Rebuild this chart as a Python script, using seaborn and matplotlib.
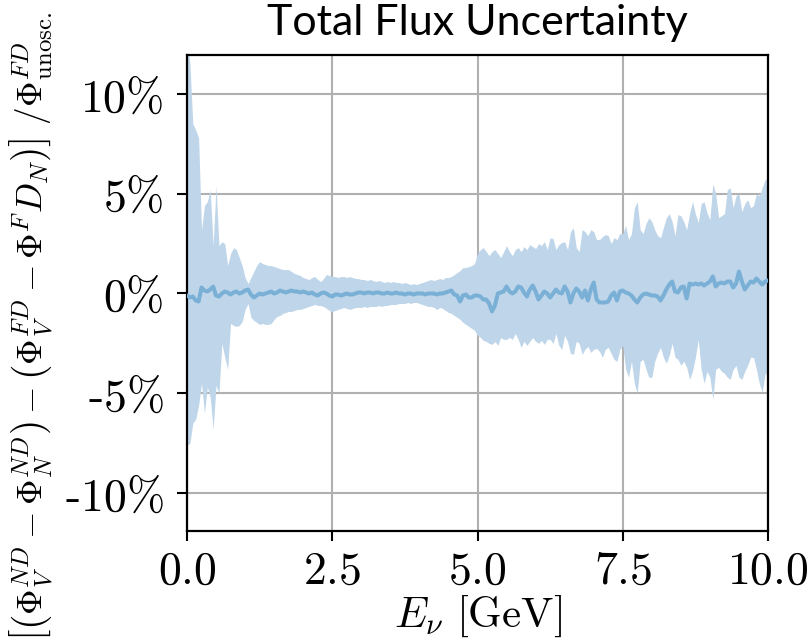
import numpy as np
import pandas as pd
import matplotlib
matplotlib.use("Agg")
import matplotlib.pyplot as plt
import seaborn as sns

# ---------------- data (percent) ----------------
energy = [round(0.05 * i, 2) for i in range(201)]

upper = [
    13.0, 11.5, 8.5, 8.2, 7.8, 3.2, 4.4, 4.6, 5.2, 2.4,
    5.4, 2.4, 2.6, 2.5, 1.4, 2.0, 2.3, 2.2, 1.8, 1.4,
    0.8, 0.5, 0.8, 1.1, 1.4, 1.6, 1.5, 1.45, 1.4, 1.4,
    1.35, 1.3, 1.25, 1.2, 1.2, 1.2, 1.1, 1.0, 0.95, 0.9,
    0.8, 0.75, 0.7, 0.8, 0.85, 0.7, 0.6, 0.75, 0.95, 0.9,
    0.85, 0.85, 0.8, 0.85, 0.85, 0.8, 0.85, 0.8, 0.75, 0.75,
    0.7, 0.7, 0.65, 0.7, 0.65, 0.6, 0.65, 0.6, 0.55, 0.6,
    0.55, 0.6, 0.55, 0.55, 0.5, 0.55, 0.5, 0.45, 0.5, 0.45,
    0.5, 0.55, 0.6, 0.65, 0.7, 0.65, 0.7, 0.75, 0.7, 0.8,
    0.8, 0.85, 0.95, 1.05, 1.15, 1.3, 1.3, 1.35, 1.4, 1.5,
    2.0, 2.2, 2.3, 2.1, 1.9, 2.1, 2.2, 2.0, 1.8, 2.1,
    2.4, 2.1, 1.9, 2.2, 2.3, 2.1, 2.35, 2.2, 2.45, 2.35,
    2.25, 2.5, 2.4, 2.6, 2.2, 2.8, 2.75, 2.2, 2.45, 2.55,
    2.6, 2.2, 3.1, 3.3, 2.3, 2.1, 3.2, 3.1, 2.9, 3.2,
    3.1, 2.7, 2.7, 2.85, 2.95, 2.9, 2.5, 2.8, 2.7, 3.0,
    3.0, 3.4, 2.7, 3.0, 4.3, 4.6, 3.2, 3.0, 3.5, 3.8,
    3.6, 3.2, 2.9, 2.8, 3.3, 3.8, 4.0, 3.6, 2.9, 3.95,
    3.9, 3.6, 3.2, 4.0, 4.6, 4.0, 3.55, 4.5, 4.6, 4.05,
    3.7, 5.5, 5.0, 3.8, 3.9, 4.0, 5.2, 5.3, 4.3, 4.9,
    5.0, 4.1, 4.5, 4.7, 4.3, 4.4, 5.0, 4.9, 5.3, 5.7,
    5.8,
]

lower = [
    -7.6, -7.5, -6.5, -6.3, -5.6, -4.5, -6.0, -4.7, -5.2, -6.8,
    -4.6, -5.0, -2.5, -3.2, -3.8, -1.5, -1.6, -1.65, -1.6, -1.4,
    -0.8, -0.5, -1.2, -1.35, -1.45, -1.55, -1.5, -1.55, -1.55, -1.5,
    -1.3, -1.15, -1.1, -1.0, -0.95, -0.9, -0.9, -0.85, -0.8, -0.8,
    -0.75, -0.7, -0.65, -0.6, -0.55, -0.6, -0.6, -0.65, -0.75, -0.85,
    -0.9, -0.85, -0.8, -0.75, -0.7, -0.75, -0.8, -0.75, -0.7, -0.7,
    -0.7, -0.65, -0.7, -0.65, -0.65, -0.65, -0.6, -0.65, -0.6, -0.6,
    -0.55, -0.55, -0.55, -0.5, -0.5, -0.5, -0.45, -0.5, -0.45, -0.45,
    -0.5, -0.55, -0.6, -0.65, -0.65, -0.7, -0.8, -0.7, -0.75, -0.85,
    -0.95, -1.0, -1.1, -1.2, -1.3, -1.45, -1.55, -1.65, -1.75, -1.85,
    -2.1, -2.2, -2.35, -2.4, -2.5, -2.55, -2.4, -2.6, -2.2, -2.3,
    -2.3, -2.2, -2.3, -2.0, -2.3, -2.7, -2.4, -2.6, -2.4, -2.2,
    -2.4, -2.5, -2.35, -2.55, -2.3, -2.3, -2.5, -2.0, -2.6, -2.8,
    -2.1, -2.4, -3.0, -3.05, -2.4, -2.5, -3.05, -2.8, -2.65, -2.95,
    -2.8, -2.75, -2.9, -3.2, -2.8, -2.7, -3.0, -3.3, -3.4, -2.8,
    -2.6, -3.8, -4.2, -3.4, -4.5, -5.0, -3.4, -3.3, -3.8, -4.2,
    -4.2, -3.4, -3.0, -2.7, -3.2, -3.5, -3.1, -2.5, -3.2, -3.3,
    -3.6, -3.4, -3.7, -4.3, -3.9, -3.2, -2.3, -3.8, -4.5, -3.9,
    -4.2, -5.3, -3.8, -3.7, -3.9, -4.0, -4.2, -4.3, -3.8, -3.6,
    -4.2, -4.3, -3.9, -3.6, -3.2, -3.2, -3.8, -4.5, -4.95, -4.0,
    -4.1,
]

central = [
    -0.1, -0.2, -0.15, -0.35, -0.4, 0.3, 0.15, 0.1, 0.2, 0.35,
    -0.1, -0.15, 0.0, 0.1, 0.05, -0.05, 0.05, 0.1, 0.0, 0.05,
    0.15, 0.2, -0.05, -0.2, -0.1, 0.0, -0.05, 0.0, 0.05, 0.1,
    0.0, 0.05, 0.15, 0.1, 0.05, 0.1, 0.15, 0.1, 0.1, 0.05,
    0.1, 0.05, 0.0, 0.05, -0.05, -0.1, 0.0, 0.05, 0.0, -0.1,
    -0.15, -0.05, -0.05, -0.1, -0.05, 0.0, -0.05, -0.05, 0.0, 0.05,
    0.05, 0.0, 0.05, 0.05, 0.0, 0.05, 0.05, 0.0, 0.0, 0.05,
    0.0, 0.0, 0.05, 0.0, 0.0, -0.05, 0.0, 0.0, -0.05, 0.0,
    0.0, 0.0, -0.05, 0.0, 0.0, 0.0, -0.05, 0.0, 0.0, 0.05,
    0.1, 0.15, -0.05, -0.1, -0.4, -0.1, -0.05, -0.2, -0.2, -0.1,
    -0.1, -0.15, -0.3, -0.3, -0.5, -0.9, -0.6, 0.0, 0.05, 0.1,
    0.35, 0.1, 0.0, 0.1, 0.35, 0.3, 0.05, -0.15, 0.2, 0.4,
    0.1, -0.3, -0.1, 0.1, 0.0, -0.2, 0.0, 0.2, 0.05, 0.0,
    0.35, 0.1, -0.45, 0.0, 0.25, 0.1, -0.2, 0.15, -0.35, 0.2,
    0.55, -0.3, -0.45, -0.45, -0.45, -0.4, -0.1, 0.05, -0.35, 0.1,
    0.15, 0.05, 0.0, -0.1, -0.3, -0.45, -0.2, -0.05, 0.0, -0.05,
    -0.1, -0.1, -0.15, -0.35, -0.1, 0.2, 0.45, 0.6, 0.1, 0.05,
    0.3, 0.35, -0.25, 0.5, 0.45, 0.5, 0.45, 0.5, 0.4, 0.5,
    0.6, 0.85, 0.35, 0.5, 0.55, 0.5, 0.6, 0.6, 0.3, 0.5,
    1.1, 0.6, 0.2, 0.4, 0.6, 0.55, 0.75, 0.6, 0.45, 0.6,
    0.65,
]

x_ticks = [0.0, 2.5, 5.0, 7.5, 10.0]
x_tick_labels = [r"$0.0$", r"$2.5$", r"$5.0$", r"$7.5$", r"$10.0$"]
y_ticks = [-10, -5, 0, 5, 10]
y_tick_labels = [r"$\text{-}10\%$", r"$\text{-}5\%$", r"$0\%$", r"$5\%$", r"$10\%$"]

title = "Total Flux Uncertainty"
x_label = r"$E_\nu\ [\mathrm{GeV}]$"
y_label = (r"$\left[\left(\Phi_V^{ND}-\Phi_N^{ND}\right)-\left(\Phi_V^{FD}-\Phi^F D_N\right)\right]"
           r"\ /\Phi^{FD}_{\mathrm{unosc.}}$")

# ---------------- style ----------------
sns.set_theme(style="whitegrid")
plt.rcParams["font.family"] = ["DejaVu Sans"]
plt.rcParams["mathtext.fontset"] = "cm"
plt.rcParams["text.color"] = "black"
plt.rcParams["axes.labelcolor"] = "black"
plt.rcParams["xtick.color"] = "black"
plt.rcParams["ytick.color"] = "black"

band_color = "#bfd6ea"
line_color = "#7aafd6"

df = pd.DataFrame({"E": energy, "center": central, "up": upper, "lo": lower})

fig = plt.figure(figsize=(8.08, 6.42), dpi=100)
ax = fig.add_axes([187 / 808, 111 / 642, 581 / 808, 476 / 642])

ax.fill_between(df["E"], df["lo"], df["up"], color=band_color, linewidth=0, zorder=2)
sns.lineplot(data=df, x="E", y="center", ax=ax, color=line_color, linewidth=2.9, zorder=3)

ax.set_xlim(0, 10)
ax.set_ylim(-11.9, 11.95)
ax.set_xticks(x_ticks)
ax.set_xticklabels(x_tick_labels)
ax.set_yticks(y_ticks)
ax.set_yticklabels(y_tick_labels)

ax.grid(True, color="#b0b0b0", linewidth=1.5)
ax.set_axisbelow(True)
for s in ax.spines.values():
    s.set_color("black")
    s.set_linewidth(1.6)
ax.tick_params(axis="both", which="major", direction="out", length=7, width=1.5,
               color="black", labelcolor="black", labelsize=33, left=True, bottom=True)
ax.tick_params(axis="y", pad=10)
ax.tick_params(axis="x", pad=6)

ax.set_xlabel(x_label, fontsize=31, labelpad=0, color="black")
ax.set_ylabel(y_label, fontsize=25.5, color="black")
ax.yaxis.set_label_coords(-0.227, 0.43)

fig.text(477 / 808, 1 - 35 / 642, title, ha="center", va="baseline",
         fontsize=31, family=["Lato", "DejaVu Sans"], color="black")

fig.savefig("out.png", dpi=100, facecolor="white")
